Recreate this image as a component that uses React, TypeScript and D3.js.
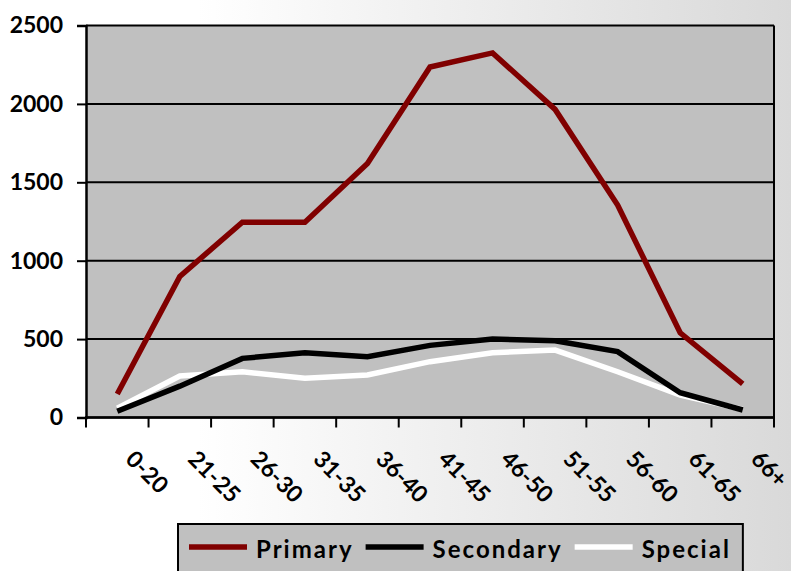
import React, { useEffect, useRef } from 'react';
import * as d3 from 'd3';

const ageGroups = ['0-20', '21-25', '26-30', '31-35', '36-40', '41-45', '46-50', '51-55', '56-60', '61-65', '66+'];
const primary = [150, 900, 1245, 1245, 1620, 2235, 2325, 1965, 1355, 540, 215];
const secondary = [40, 200, 377, 413, 388, 460, 500, 490, 420, 158, 48];
const special = [60, 265, 292, 250, 271, 356, 413, 430, 292, 143, 52];
const yTicks = [0, 500, 1000, 1500, 2000, 2500];

const seriesNames = ['Primary', 'Secondary', 'Special'];
const seriesColors = ['#800000', '#000000', '#ffffff'];

const FONT = 'Lato, "Open Sans", sans-serif';

const App: React.FC = () => {
  const svgRef = useRef<SVGSVGElement | null>(null);

  useEffect(() => {
    if (!svgRef.current) return;
    const svg = d3.select(svgRef.current);
    svg.selectAll('*').remove();

    const width = 791;
    const height = 571;
    const plot = { left: 86, right: 774, top: 25.5, bottom: 417.5 };

    // background gradient
    const defs = svg.append('defs');
    const bg = defs
      .append('linearGradient')
      .attr('id', 'bg-grad')
      .attr('x1', '0%')
      .attr('y1', '0%')
      .attr('x2', '100%')
      .attr('y2', '0%');
    bg.append('stop').attr('offset', '0%').attr('stop-color', '#ffffff');
    bg.append('stop').attr('offset', '25%').attr('stop-color', '#ffffff');
    bg.append('stop').attr('offset', '100%').attr('stop-color', '#d9d9d9');

    svg.append('rect').attr('width', width).attr('height', height).attr('fill', 'url(#bg-grad)');

    const x = d3.scaleBand<string>().domain(ageGroups).range([plot.left, plot.right]);
    const y = d3.scaleLinear().domain([0, 2500]).range([plot.bottom, plot.top]);

    // plot area
    svg
      .append('rect')
      .attr('x', plot.left)
      .attr('y', plot.top)
      .attr('width', plot.right - plot.left)
      .attr('height', plot.bottom - plot.top)
      .attr('fill', '#c0c0c0');

    // gridlines
    svg
      .append('g')
      .selectAll('line')
      .data(yTicks)
      .enter()
      .append('line')
      .attr('x1', plot.left)
      .attr('x2', plot.right)
      .attr('y1', (d) => y(d))
      .attr('y2', (d) => y(d))
      .attr('stroke', '#000')
      .attr('stroke-width', 2);

    // right border
    svg
      .append('line')
      .attr('x1', plot.right)
      .attr('x2', plot.right)
      .attr('y1', plot.top)
      .attr('y2', plot.bottom)
      .attr('stroke', '#000')
      .attr('stroke-width', 2);

    // y axis
    const yAxis = d3
      .axisLeft(y)
      .tickValues(yTicks)
      .tickSize(9)
      .tickPadding(14)
      .tickFormat((d) => `${d}`);

    const yG = svg.append('g').attr('transform', `translate(${plot.left},0)`).call(yAxis);
    yG.select('.domain').attr('stroke', '#000').attr('stroke-width', 2.5);
    yG.selectAll('.tick line').attr('stroke', '#000').attr('stroke-width', 2);
    yG.selectAll('.tick text')
      .attr('fill', '#000')
      .style('font-family', FONT)
      .style('font-size', '23px')
      .style('font-weight', 'bold');

    // x axis line + boundary ticks
    svg
      .append('line')
      .attr('x1', plot.left - 1)
      .attr('x2', plot.right + 1)
      .attr('y1', plot.bottom)
      .attr('y2', plot.bottom)
      .attr('stroke', '#000')
      .attr('stroke-width', 2.5);

    const boundaries = ageGroups.map((g) => x(g) as number).concat([x.range()[1]]);
    svg
      .append('g')
      .selectAll('line')
      .data(boundaries)
      .enter()
      .append('line')
      .attr('x1', (d) => d)
      .attr('x2', (d) => d)
      .attr('y1', plot.bottom)
      .attr('y2', plot.bottom + 10)
      .attr('stroke', '#000')
      .attr('stroke-width', 2);

    // x labels
    svg
      .append('g')
      .selectAll('text')
      .data(ageGroups)
      .enter()
      .append('text')
      .attr('transform', (d) => `translate(${(x(d) as number) + x.bandwidth() / 2 + 7},${plot.bottom + 43}) rotate(45)`)
      .attr('text-anchor', 'start')
      .attr('fill', '#000')
      .style('font-family', FONT)
      .style('font-size', '23px')
      .style('font-weight', 'bold')
      .text((d) => d);

    // lines
    const allSeries = [primary, secondary, special];
    const line = d3
      .line<number>()
      .x((_, i) => (x(ageGroups[i]) as number) + x.bandwidth() / 2)
      .y((d) => y(d));

    [2, 1, 0].forEach((si) => {
      svg
        .append('path')
        .datum(allSeries[si])
        .attr('fill', 'none')
        .attr('stroke', seriesColors[si])
        .attr('stroke-width', 5.5)
        .attr('stroke-linejoin', 'miter')
        .attr('d', line);
    });

    // legend
    const legend = svg.append('g');
    const box = legend
      .append('rect')
      .attr('x', 178)
      .attr('y', 524)
      .attr('height', 60)
      .attr('fill', '#c0c0c0')
      .attr('stroke', '#000')
      .attr('stroke-width', 2);

    let cx = 189;
    const ly = 547;
    seriesNames.forEach((name, i) => {
      legend
        .append('line')
        .attr('x1', cx)
        .attr('x2', cx + 58)
        .attr('y1', ly)
        .attr('y2', ly)
        .attr('stroke', seriesColors[i])
        .attr('stroke-width', 5.5);
      const t = legend
        .append('text')
        .attr('x', cx + 67)
        .attr('y', ly + 11)
        .attr('fill', '#000')
        .style('font-family', FONT)
        .style('font-size', '24px')
        .style('font-weight', 'bold')
        .style('letter-spacing', '2px')
        .text(name);
      const w = (t.node() as SVGTextElement).getComputedTextLength();
      cx = cx + 67 + w + 12;
    });
    box.attr('width', cx - 12 + 12 - 178);
  }, []);

  return (
    <svg
      ref={svgRef}
      width={791}
      height={571}
      style={{ position: 'absolute', left: 0, top: 0, display: 'block' }}
    />
  );
};

export default App;
